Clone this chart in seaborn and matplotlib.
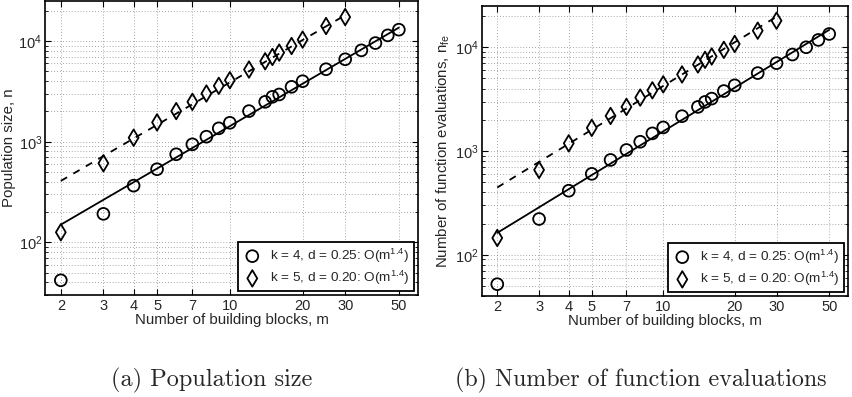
import numpy as np
import pandas as pd
import seaborn as sns
import matplotlib.pyplot as plt
from matplotlib.ticker import FixedLocator, FixedFormatter, LogLocator, NullFormatter, NullLocator

# building blocks m
m_k4 = [2, 3, 4, 5, 6, 7, 8, 9, 10, 12, 14, 15, 16, 18, 20, 25, 30, 35, 40, 45, 50]
m_k5 = [2, 3, 4, 5, 6, 7, 8, 9, 10, 12, 14, 15, 16, 18, 20, 25, 30]

# (a) population size
pop_k4 = [42, 192, 366, 533, 750, 942, 1122, 1358, 1541, 2014, 2489, 2792, 2946,
          3509, 3990, 5250, 6590, 8085, 9550, 11390, 12970]
pop_k5 = [126, 611, 1096, 1556, 2014, 2489, 3012, 3591, 4083, 5210, 6297, 6950,
          7680, 8930, 10330, 14090, 17300]

# (b) function evaluations
nfe_k4 = [52, 221, 414, 602, 820, 1023, 1228, 1479, 1687, 2166, 2661, 2972, 3199,
          3785, 4295, 5637, 7029, 8511, 10000, 11770, 13430]
nfe_k5 = [145, 657, 1186, 1671, 2177, 2661, 3273, 3846, 4389, 5470, 6825, 7570,
          8150, 9445, 10770, 14450, 18040]

# fitted O(m^1.4) lines (end points, straight on log-log)
fit_m_k4 = [2, 50]
fit_m_k5 = [2, 30]
fit_pop_k4 = [150, 13590]
fit_pop_k5 = [408, 18070]
fit_nfe_k4 = [162.5, 14720]
fit_nfe_k5 = [445, 19710]

xticks = [2, 3, 4, 5, 7, 10, 20, 30, 50]
label_k4 = 'k = 4, d = 0.25: O(m$^{1.4}$)'
label_k5 = 'k = 5, d = 0.20: O(m$^{1.4}$)'

sns.set_theme(style="ticks")
plt.rcParams['font.family'] = ['Liberation Sans', 'DejaVu Sans']
plt.rcParams['mathtext.fontset'] = 'custom'
plt.rcParams['mathtext.rm'] = 'Liberation Sans'
plt.rcParams['mathtext.it'] = 'Liberation Sans:italic'
plt.rcParams['axes.linewidth'] = 1.2
plt.rcParams['axes.edgecolor'] = 'black'

fig = plt.figure(figsize=(8.52, 3.97), dpi=100)
ax_a = fig.add_axes([0.0528, 0.2569, 0.4378, 0.7406])
ax_b = fig.add_axes([0.5654, 0.2544, 0.4299, 0.7305])

grid_style = dict(linestyle=(0, (1, 2.5)), color='#8a8a8a', linewidth=0.6)


def draw_panel(ax, y_k4, y_k5, fit_k4, fit_k5, ylim, ylabel):
    df4 = pd.DataFrame({'m': m_k4, 'y': y_k4})
    df5 = pd.DataFrame({'m': m_k5, 'y': y_k5})
    sns.lineplot(x=fit_m_k4, y=fit_k4, ax=ax, color='black', linewidth=1.3, linestyle='-')
    sns.lineplot(x=fit_m_k5, y=fit_k5, ax=ax, color='black', linewidth=1.3, linestyle=(0, (4, 4)))
    sns.scatterplot(data=df4, x='m', y='y', ax=ax, marker='o', s=72, facecolors='none',
                    edgecolors='black', linewidth=1.3, label=label_k4, zorder=3)
    sns.scatterplot(data=df5, x='m', y='y', ax=ax, marker='d', s=70, facecolors='none',
                    edgecolors='black', linewidth=1.3, label=label_k5, zorder=3)
    ax.set_xscale('log')
    ax.set_yscale('log')
    ax.set_xlim(1.72, 60)
    ax.set_ylim(*ylim)
    ax.xaxis.set_major_locator(FixedLocator(xticks))
    ax.xaxis.set_major_formatter(FixedFormatter([str(t) for t in xticks]))
    ax.xaxis.set_minor_locator(NullLocator())
    ax.yaxis.set_major_locator(LogLocator(base=10))
    ax.yaxis.set_minor_locator(LogLocator(base=10, subs=np.arange(2, 10)))
    ax.yaxis.set_minor_formatter(NullFormatter())
    ax.tick_params(which='both', direction='in', top=True, right=True, labelsize=10.5,
                   color='black')
    ax.tick_params(axis='y', pad=2)
    ax.tick_params(axis='x', pad=3)
    ax.tick_params(which='major', length=4, width=0.8)
    ax.tick_params(which='minor', length=2, width=0.6)
    ax.grid(True, which='major', axis='x', **grid_style)
    ax.grid(True, which='both', axis='y', **grid_style)
    ax.set_xlabel('Number of building blocks, m', fontsize=10.8, labelpad=0)
    ax.set_ylabel(ylabel, fontsize=10.8, labelpad=2)
    for sp in ax.spines.values():
        sp.set_visible(True)
    leg = ax.legend(loc='lower right', fontsize=9.7, frameon=True, fancybox=False,
                    borderaxespad=0.3, handletextpad=0.6, borderpad=0.3,
                    labelspacing=0.3, handlelength=1.5)
    leg.get_frame().set_edgecolor('black')
    leg.get_frame().set_linewidth(1.3)
    leg.get_frame().set_alpha(1)


draw_panel(ax_a, pop_k4, pop_k5, fit_pop_k4, fit_pop_k5, (30, 25000), 'Population size, n')
draw_panel(ax_b, nfe_k4, nfe_k5, fit_nfe_k4, fit_nfe_k5, (40, 25000),
           'Number of function evaluations, n$_{\\mathrm{fe}}$')

fig.text(0.248, 0.042, '(a) Population size', family='cmr10', fontsize=17.5,
         ha='center', va='center')
fig.text(0.752, 0.042, '(b) Number of function evaluations', family='cmr10',
         fontsize=17.3, ha='center', va='center')

fig.savefig('out.png', dpi=100)
